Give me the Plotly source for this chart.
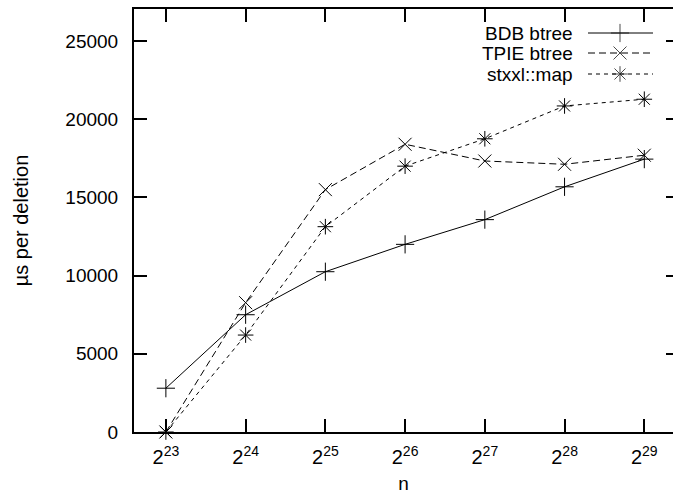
import math
import plotly.graph_objects as go

# ---- data ----
exponents = [23, 24, 25, 26, 27, 28, 29]
n_values = [2 ** e for e in exponents]
tick_text = [f"2<sup>{e}</sup>" for e in exponents]
series_names = ["BDB btree", "TPIE btree", "stxxl::map"]
bdb_btree = [2800, 7500, 10250, 12000, 13580, 15680, 17450]
tpie_btree = [0, 8270, 15500, 18400, 17330, 17120, 17700]
stxxl_map = [0, 6200, 13130, 17000, 18750, 20850, 21280]
y_ticks = [0, 5000, 10000, 15000, 20000, 25000]
y_tick_text = [str(v) for v in y_ticks]

FONT = "Liberation Sans, Arial, Helvetica, sans-serif"
W, H = 673, 494
ML, MR, MT, MB = 134, 0, 9, 62

styles = [
    ("solid", "cross-thin"),
    ("7px,4px", "x-thin"),
    ("4px,4px", "asterisk"),
]
values = [bdb_btree, tpie_btree, stxxl_map]

fig = go.Figure()
for name, vals, (dash, sym) in zip(series_names, values, styles):
    fig.add_trace(go.Scatter(
        x=n_values, y=vals, mode="lines+markers", name=name,
        line=dict(color="black", width=1, dash=dash),
        marker=dict(symbol=sym, size=13, color="black",
                    line=dict(color="black", width=1)),
        cliponaxis=False, showlegend=False,
    ))

# dummy trace to render right-hand mirror ticks
fig.add_trace(go.Scatter(x=[], y=[], xaxis="x", yaxis="y2", showlegend=False))

# custom legend (symbol to the right of text), in pixel-like helper axes
rows = [33, 53, 74]
for name, row, (dash, sym) in zip(series_names, rows, styles):
    fig.add_trace(go.Scatter(
        x=[588, 620, 653], y=[row, row, row], mode="lines+markers",
        xaxis="x3", yaxis="y3",
        line=dict(color="black", width=1, dash=dash),
        marker=dict(symbol=sym, size=[0, 13, 0], color="black",
                    line=dict(color="black", width=1)),
        cliponaxis=False, showlegend=False, hoverinfo="skip",
    ))
    fig.add_annotation(x=575, y=row, xref="x3", yref="y3", text=name,
                       xanchor="right", yanchor="middle", showarrow=False,
                       font=dict(family=FONT, size=19, color="black"))

xr = [math.log10(2 ** 22.6), math.log10(2 ** 29.36)]
yr = [0, 27050]

fig.update_layout(
    width=W, height=H,
    margin=dict(l=ML, r=MR, t=MT, b=MB, pad=0),
    paper_bgcolor="white", plot_bgcolor="white",
    font=dict(family=FONT, size=19, color="black"),
    xaxis=dict(
        type="log", range=xr, tickvals=n_values, ticktext=tick_text,
        ticks="inside", ticklen=13, tickwidth=1.5, tickcolor="black",
        showline=True, linewidth=2, linecolor="black", mirror="ticks",
        showgrid=False, zeroline=False, tickfont=dict(size=20),
        title=dict(text="n", font=dict(size=19), standoff=14),
        ticklabelstandoff=6,
    ),
    yaxis=dict(
        range=yr, tickvals=y_ticks, ticktext=y_tick_text,
        ticks="inside", ticklen=13,
        tickwidth=1.5, tickcolor="black",
        showline=True, linewidth=2, linecolor="black", mirror=False,
        showgrid=False, zeroline=False, tickfont=dict(size=19),
        title=dict(text="µs per deletion", font=dict(size=20), standoff=31),
        ticklabelstandoff=10,
    ),
    yaxis2=dict(
        overlaying="y", side="right", anchor="x", range=yr, tickvals=y_ticks,
        ticks="inside", ticklen=7, tickwidth=1.5, tickcolor="black",
        showticklabels=False, showline=False, showgrid=False, zeroline=False,
    ),
    xaxis3=dict(overlaying="x", anchor="y3", range=[ML, W - MR],
                visible=False, fixedrange=True),
    yaxis3=dict(overlaying="y", anchor="x3", range=[H - MB, MT],
                visible=False, fixedrange=True),
)

fig.write_html("out.html")
